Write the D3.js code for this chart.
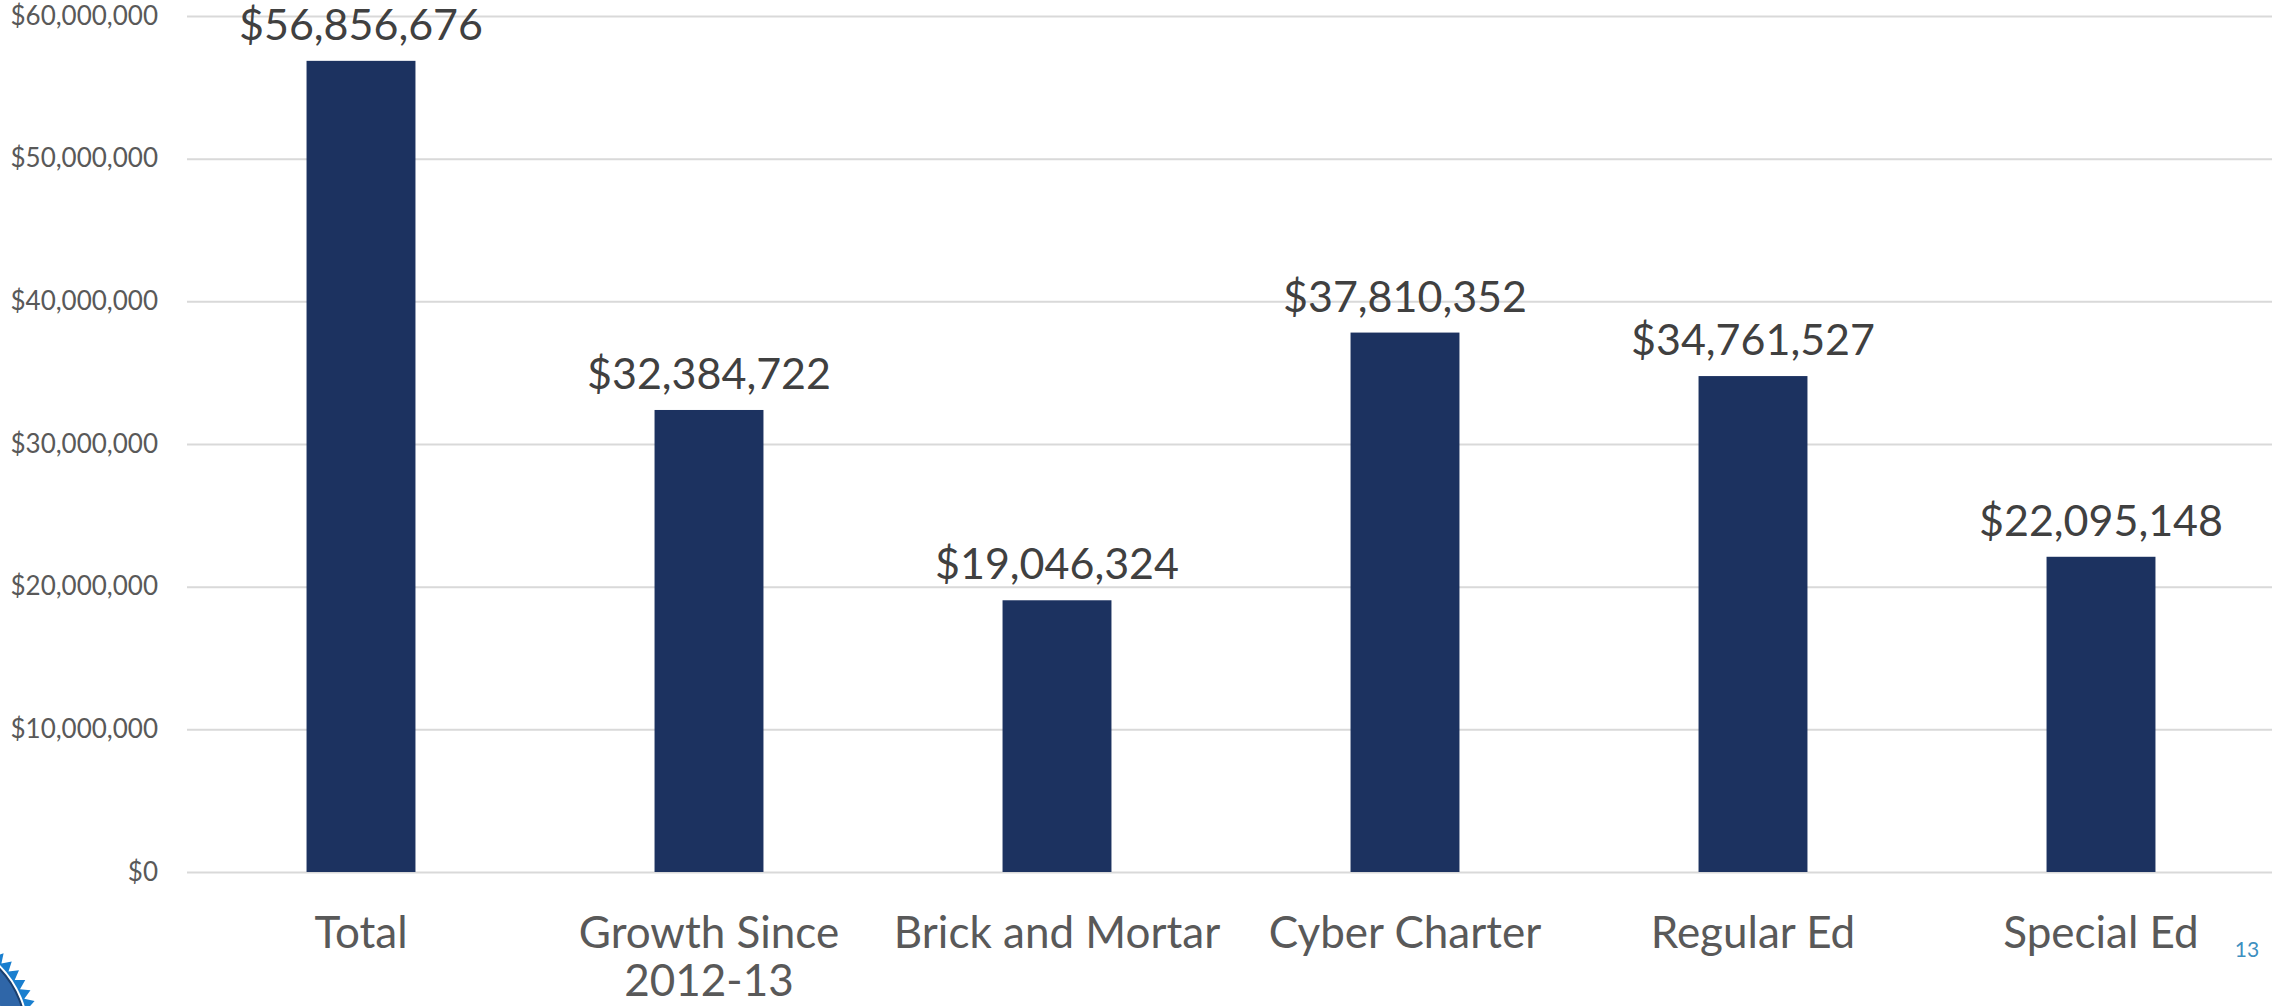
<!DOCTYPE html>
<html>
<head>
<meta charset="utf-8">
<script src="https://cdn.jsdelivr.net/npm/d3@7"></script>
<style>
  html, body { margin: 0; padding: 0; background: #ffffff; }
  svg { display: block; }
</style>
</head>
<body>
<script>
const categories = ["Total", "Growth Since\n2012-13", "Brick and Mortar", "Cyber Charter", "Regular Ed", "Special Ed"];
const values = [56856676, 32384722, 19046324, 37810352, 34761527, 22095148];
const yTicks = [0, 10000000, 20000000, 30000000, 40000000, 50000000, 60000000];
const pageNumber = "13";

const W = 2272, H = 1006;
const svg = d3.select("body").append("svg").attr("width", W).attr("height", H);
const font = "Lato, 'Open Sans', sans-serif";

const x0 = 187, x1 = 2275, yTop = 16, yBottom = 872;
const x = d3.scaleBand().domain(categories).range([x0, x1]).paddingInner(0.687).paddingOuter(0.3435);
const y = d3.scaleLinear().domain([0, 60000000]).range([yBottom, yTop]);

const fmt = d => "$" + d3.format(",")(d);

// gridlines + y labels
const yAxis = d3.axisLeft(y).tickValues(yTicks).tickSize(-(W - x0)).tickFormat(fmt).tickPadding(29);
const ga = svg.append("g").attr("transform", `translate(${x0},0)`).call(yAxis);
ga.select(".domain").remove();
ga.selectAll(".tick line").attr("stroke", "#d9d9d9").attr("stroke-width", 2);
ga.selectAll(".tick text").attr("fill", "#595959").style("font-family", font).style("font-size", "26px");

// bars
svg.append("g").selectAll("rect").data(values).join("rect")
  .attr("x", (d, i) => x(categories[i]))
  .attr("width", x.bandwidth())
  .attr("y", d => y(d))
  .attr("height", d => y(0) - y(d))
  .attr("fill", "#1c3260");

// value labels
svg.append("g").selectAll("text").data(values).join("text")
  .attr("x", (d, i) => x(categories[i]) + x.bandwidth() / 2)
  .attr("y", d => y(d) - 21)
  .attr("text-anchor", "middle")
  .attr("fill", "#404040")
  .style("font-family", font)
  .style("font-size", "43px")
  .text(d => fmt(d));

// category labels
const xAxis = d3.axisBottom(x).tickSize(0).tickFormat("");
const gx = svg.append("g").attr("transform", `translate(0,${yBottom})`).call(xAxis);
gx.select(".domain").remove();
gx.selectAll(".tick").each(function(d) {
  const g = d3.select(this);
  d.split("\n").forEach((ln, i) => {
    g.append("text")
      .attr("x", 0).attr("y", 76 + i * 48)
      .attr("text-anchor", "middle")
      .attr("fill", "#595959")
      .style("font-family", font)
      .style("font-size", "44px")
      .text(ln);
  });
});

// page number
svg.append("text").attr("x", 2247).attr("y", 957).attr("text-anchor", "middle")
  .attr("fill", "#3d8fc0").style("font-family", font).style("font-size", "21px").text(pageNumber);

// corner seal decoration
const seal = svg.append("g").attr("transform", "translate(-70,1035)");
const nPts = 60, rOut = 110, rIn = 101;
const pts = d3.range(nPts * 2).map(i => {
  const a = i * Math.PI / nPts;
  const r = i % 2 ? rIn : rOut;
  return [Math.cos(a) * r, Math.sin(a) * r];
});
seal.append("path").attr("d", d3.line()(pts) + "Z").attr("fill", "#1a7fcf");
seal.append("circle").attr("r", 99).attr("fill", "#ffffff");
seal.append("circle").attr("r", 96).attr("fill", "#2f66a8").attr("stroke", "#1a3f6e").attr("stroke-width", 2);
seal.append("circle").attr("r", 76).attr("fill", "#ffffff");
seal.append("circle").attr("r", 73).attr("fill", "#9a9a9a");
</script>
</body>
</html>
